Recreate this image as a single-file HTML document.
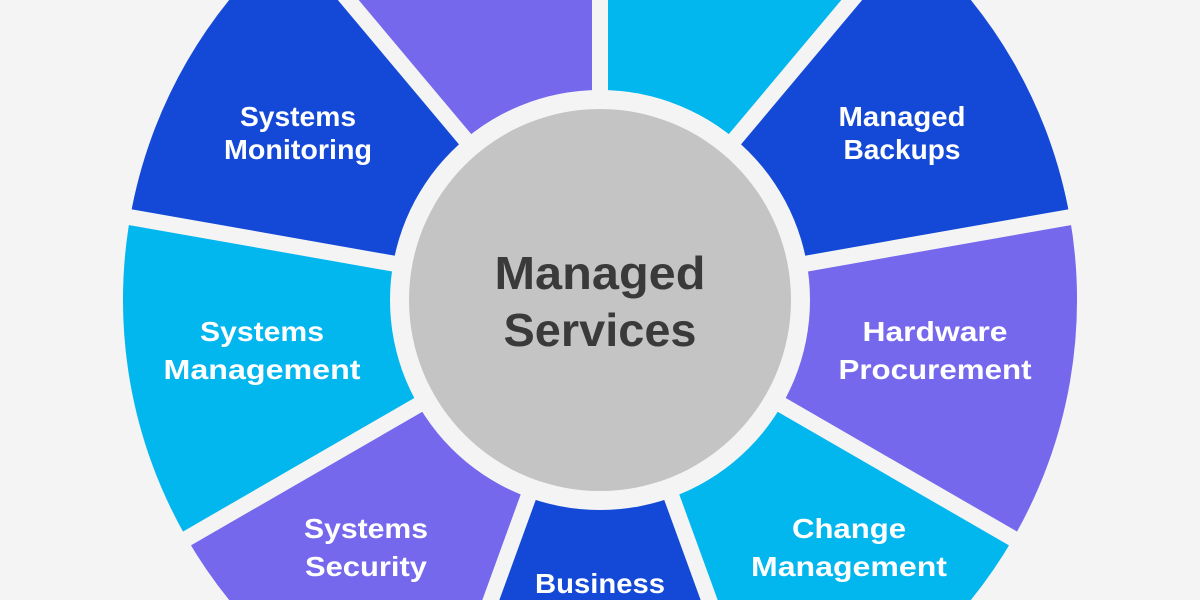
<!DOCTYPE html>
<html><head><meta charset="utf-8"><style>
html,body{margin:0;padding:0;background:#f4f4f4;width:1200px;height:600px;overflow:hidden;}
svg{display:block;}
text{font-family:"Liberation Sans",Arial,sans-serif;font-weight:bold;text-anchor:middle;}
.w{fill:#fff;font-size:28px;}
</style></head><body>
<svg width="1200" height="600" viewBox="0 0 1200 600" xmlns="http://www.w3.org/2000/svg">
<rect width="1200" height="600" fill="#f4f4f4"/>
<path d="M600 300 L600 -177 A477 477 0 0 1 906.6 -65.4 Z" fill="#02b6ee"/>
<path d="M600 300 L906.6 -65.4 A477 477 0 0 1 1069.8 217.2 Z" fill="#1449d8"/>
<path d="M600 300 L1069.8 217.2 A477 477 0 0 1 1013.1 538.5 Z" fill="#7568ec"/>
<path d="M600 300 L1013.1 538.5 A477 477 0 0 1 763.1 748.2 Z" fill="#02b6ee"/>
<path d="M600 300 L763.1 748.2 A477 477 0 0 1 436.9 748.2 Z" fill="#1449d8"/>
<path d="M600 300 L436.9 748.2 A477 477 0 0 1 186.9 538.5 Z" fill="#7568ec"/>
<path d="M600 300 L186.9 538.5 A477 477 0 0 1 130.2 217.2 Z" fill="#02b6ee"/>
<path d="M600 300 L130.2 217.2 A477 477 0 0 1 293.4 -65.4 Z" fill="#1449d8"/>
<path d="M600 300 L293.4 -65.4 A477 477 0 0 1 600 -177 Z" fill="#7568ec"/>
<g stroke="#f4f4f4" stroke-width="16">
<line x1="600" y1="300" x2="600" y2="-200"/>
<line x1="600" y1="300" x2="921.4" y2="-83"/>
<line x1="600" y1="300" x2="1092.4" y2="213.2"/>
<line x1="600" y1="300" x2="1033" y2="550"/>
<line x1="600" y1="300" x2="771" y2="769.9"/>
<line x1="600" y1="300" x2="429" y2="769.9"/>
<line x1="600" y1="300" x2="167" y2="550"/>
<line x1="600" y1="300" x2="107.6" y2="213.2"/>
<line x1="600" y1="300" x2="278.6" y2="-83"/>
</g>
<circle cx="600" cy="300" r="210" fill="#f4f4f4"/>
<circle cx="600" cy="300" r="191" fill="#c4c4c4"/>
<text x="600" y="289" font-size="46" fill="#3a3a3a" textLength="211" lengthAdjust="spacingAndGlyphs">Managed</text>
<text x="600" y="346" font-size="46" fill="#3a3a3a" textLength="193" lengthAdjust="spacingAndGlyphs">Services</text>
<text class="w" x="298" y="126" textLength="116" lengthAdjust="spacingAndGlyphs">Systems</text>
<text class="w" x="298" y="159" textLength="148" lengthAdjust="spacingAndGlyphs">Monitoring</text>
<text class="w" x="902" y="126" textLength="127" lengthAdjust="spacingAndGlyphs">Managed</text>
<text class="w" x="902" y="159" textLength="117" lengthAdjust="spacingAndGlyphs">Backups</text>
<text class="w" x="262" y="341" textLength="124" lengthAdjust="spacingAndGlyphs">Systems</text>
<text class="w" x="262" y="379" textLength="197" lengthAdjust="spacingAndGlyphs">Management</text>
<text class="w" x="935" y="341" textLength="145" lengthAdjust="spacingAndGlyphs">Hardware</text>
<text class="w" x="935" y="379" textLength="193" lengthAdjust="spacingAndGlyphs">Procurement</text>
<text class="w" x="366" y="538" textLength="124" lengthAdjust="spacingAndGlyphs">Systems</text>
<text class="w" x="366" y="576" textLength="122" lengthAdjust="spacingAndGlyphs">Security</text>
<text class="w" x="849" y="538" textLength="114" lengthAdjust="spacingAndGlyphs">Change</text>
<text class="w" x="849" y="576" textLength="196" lengthAdjust="spacingAndGlyphs">Management</text>
<text class="w" x="600" y="593" textLength="130" lengthAdjust="spacingAndGlyphs">Business</text>
</svg>
</body></html>
